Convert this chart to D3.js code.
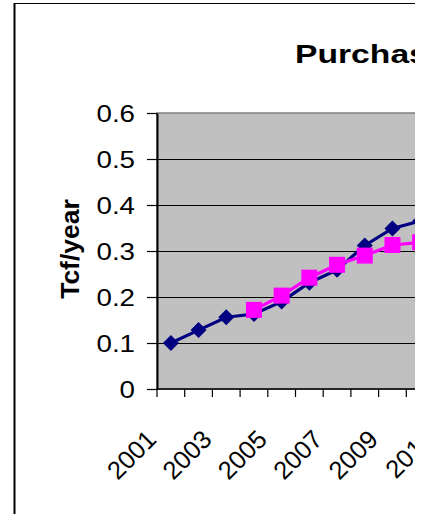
<!DOCTYPE html>
<html>
<head>
<meta charset="utf-8">
<script src="https://cdn.jsdelivr.net/npm/d3@7"></script>
<style>
  html, body { margin: 0; padding: 0; background: #fff; }
  svg { display: block; }
  text { font-family: "Liberation Sans", Arial, sans-serif; fill: #000; }
</style>
</head>
<body>
<script>
// Annual volumes, Tcf/year
const years = [2001, 2002, 2003, 2004, 2005, 2006, 2007, 2008, 2009, 2010, 2011];
const series1Years = [2001, 2002, 2003, 2004, 2005, 2006, 2007, 2008, 2009, 2010];
const series1Values = [0.100, 0.128, 0.156, 0.163, 0.190, 0.231, 0.259, 0.312, 0.349, 0.365];
const series2Years = [2004, 2005, 2006, 2007, 2008, 2009, 2010];
const series2Values = [0.172, 0.203, 0.242, 0.270, 0.290, 0.313, 0.319];
const yTickValues = [0, 0.1, 0.2, 0.3, 0.4, 0.5, 0.6];
const yTickLabels = ["0", "0.1", "0.2", "0.3", "0.4", "0.5", "0.6"];
const xTickLabels = ["2001", "2003", "2005", "2007", "2009", "2011"];
const titleText = "Purchases";
const yTitleText = "Tcf/year";

const W = 430, H = 514;
const frameRight = 415;               // the chart frame is cut here
const plot = { left: 157, top: 113, bottom: 389, step: 27.7 };

const svg = d3.select("body").append("svg")
  .attr("width", W).attr("height", H);

svg.append("defs").append("clipPath").attr("id", "frame")
  .append("rect").attr("x", 0).attr("y", 0).attr("width", frameRight).attr("height", H);

const root = svg.append("g").attr("clip-path", "url(#frame)");

// Scales
const x = d3.scaleBand()
  .domain(years)
  .range([plot.left, plot.left + plot.step * years.length])
  .paddingInner(0).paddingOuter(0);
const cx = d => x(d) + x.bandwidth() / 2;
const y = d3.scaleLinear().domain([0, 0.6]).range([plot.bottom, plot.top]);

// Outer chart frame (left and top edges)
root.append("line").attr("x1", 14.5).attr("x2", 14.5).attr("y1", 3).attr("y2", H)
  .attr("stroke", "#000").attr("stroke-width", 2);
root.append("line").attr("x1", 14).attr("x2", frameRight + 20).attr("y1", 3.5).attr("y2", 3.5)
  .attr("stroke", "#000").attr("stroke-width", 1.2);

// Title
root.append("text")
  .attr("transform", "translate(295,63) scale(1.32,1)")
  .attr("font-size", 25.5).attr("font-weight", "bold")
  .text(titleText);

// Plot area
root.append("rect")
  .attr("x", plot.left).attr("y", plot.top)
  .attr("width", x.range()[1] - plot.left).attr("height", plot.bottom - plot.top)
  .attr("fill", "#C0C0C0").attr("stroke", "#808080").attr("stroke-width", 1.5);

// Horizontal gridlines
root.append("g").selectAll("line")
  .data(yTickValues.filter(v => v > 0 && v < 0.6))
  .join("line")
  .attr("x1", plot.left).attr("x2", x.range()[1])
  .attr("y1", d => Math.round(y(d)) + 0.5).attr("y2", d => Math.round(y(d)) + 0.5)
  .attr("stroke", "#000").attr("stroke-width", 1);

// Y axis
const yStretch = 1.18;
const yAxis = root.append("g")
  .attr("transform", `translate(${plot.left},0)`)
  .call(d3.axisLeft(y).tickValues(yTickValues).tickSize(10).tickSizeOuter(0)
    .tickFormat((d, i) => yTickLabels[i]));
yAxis.select(".domain").attr("stroke", "#000").attr("stroke-width", 2);
yAxis.selectAll(".tick line").attr("stroke", "#000").attr("stroke-width", 1.2);
yAxis.selectAll(".tick text")
  .attr("font-size", 23.5)
  .attr("font-family", "Liberation Sans, Arial, sans-serif")
  .attr("dy", null)
  .attr("y", 8.3)
  .attr("x", -22 / yStretch)
  .attr("transform", `scale(${yStretch},1)`);

// Y axis title
root.append("text")
  .attr("transform", "translate(79,249) rotate(-90)")
  .attr("text-anchor", "middle")
  .attr("font-size", 26.5).attr("font-weight", "bold")
  .text(yTitleText);

// X axis line and category boundary ticks
root.append("line")
  .attr("x1", plot.left).attr("x2", x.range()[1])
  .attr("y1", plot.bottom).attr("y2", plot.bottom)
  .attr("stroke", "#000").attr("stroke-width", 1.5);
root.append("g").selectAll("line")
  .data(years)
  .join("line")
  .attr("x1", d => x(d)).attr("x2", d => x(d))
  .attr("y1", plot.bottom).attr("y2", plot.bottom + 8)
  .attr("stroke", "#000").attr("stroke-width", 1.2);

// X tick labels (every other year)
root.append("g").selectAll("text")
  .data(xTickLabels)
  .join("text")
  .attr("transform", d => `translate(${cx(+d) - 13},441) rotate(-45)`)
  .attr("text-anchor", "end")
  .attr("font-size", 25.5)
  .text(d => d);

// Series lines and markers
const line = d3.line().x(d => cx(d[0])).y(d => y(d[1]));
const s1 = series1Years.map((yr, i) => [yr, series1Values[i]]);
const s2 = series2Years.map((yr, i) => [yr, series2Values[i]]);

root.append("path").datum(s1).attr("d", line)
  .attr("fill", "none").attr("stroke", "#000080").attr("stroke-width", 3.2);
root.append("g").selectAll("path")
  .data(s1).join("path")
  .attr("d", d3.symbol(d3.symbolSquare, 128)())
  .attr("transform", d => `translate(${cx(d[0])},${y(d[1])}) rotate(45)`)
  .attr("fill", "#000080");

root.append("path").datum(s2).attr("d", line)
  .attr("fill", "none").attr("stroke", "#FF00FF").attr("stroke-width", 3.2);
root.append("g").selectAll("rect")
  .data(s2).join("rect")
  .attr("x", d => cx(d[0]) - 8).attr("y", d => y(d[1]) - 8)
  .attr("width", 16).attr("height", 16)
  .attr("fill", "#FF00FF");
</script>
</body>
</html>
